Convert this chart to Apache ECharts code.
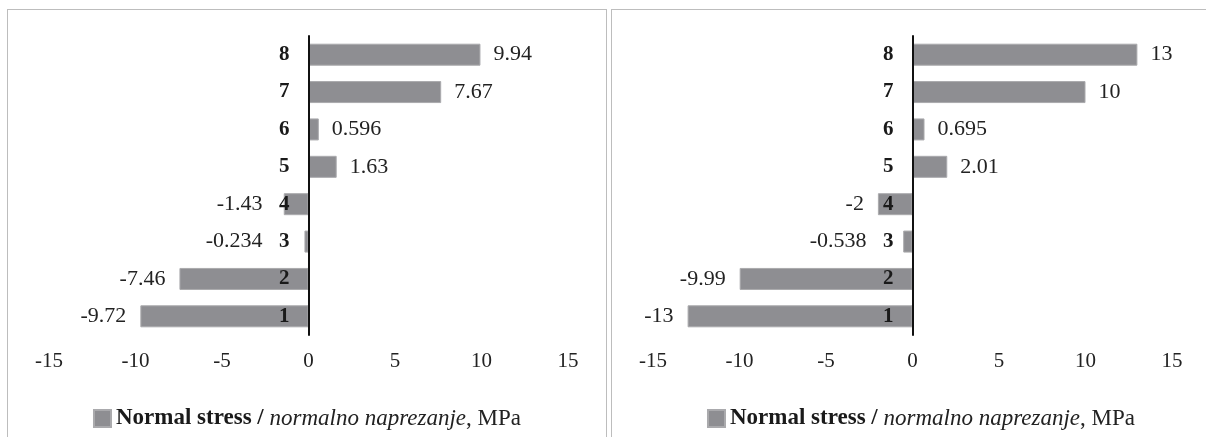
<!DOCTYPE html>
<html>
<head>
<meta charset="utf-8">
<script src="https://cdn.jsdelivr.net/npm/echarts@6/dist/echarts.min.js"></script>
<style>
  html, body { margin: 0; padding: 0; background: #fff; width: 1206px; height: 437px; overflow: hidden; }
  .panel { position: absolute; top: 9px; height: 460px; border: 1px solid #bdbdbd; box-sizing: border-box; background: #fff; }
  #left { left: 7px; width: 600px; }
  #right { left: 611px; width: 620px; }
</style>
</head>
<body>
<div id="left" class="panel"></div>
<div id="right" class="panel"></div>
<script>
const categories = ['1', '2', '3', '4', '5', '6', '7', '8'];
const leftValues = [-9.72, -7.46, -0.234, -1.43, 1.63, 0.596, 7.67, 9.94];
const rightValues = [-13, -9.99, -0.538, -2, 2.01, 0.695, 10, 13];
const xTicks = { min: -15, max: 15, interval: 5 };
const seriesName = 'Normal stress / normalno naprezanje, MPa';

const FONT = '"Liberation Serif", "Times New Roman", serif';
const BAR = '#8e8e92';
const GRID_W = 519;
const PX_PER_UNIT = GRID_W / (xTicks.max - xTicks.min);

function buildOption(values, gridLeft) {
  return {
    animation: false,
    textStyle: { fontFamily: FONT },
    grid: { left: gridLeft, width: GRID_W, top: 26, height: 299 },
    xAxis: {
      type: 'value', min: xTicks.min, max: xTicks.max, interval: xTicks.interval,
      axisLine: { show: false }, axisTick: { show: false }, splitLine: { show: false },
      axisLabel: { fontFamily: FONT, fontSize: 21, color: '#222', margin: 16 }
    },
    yAxis: {
      type: 'category', data: categories, z: 5,
      offset: -GRID_W / 2,
      axisLine: { show: true, onZero: false, lineStyle: { color: '#111', width: 2 } },
      axisTick: { show: false },
      axisLabel: { fontFamily: FONT, fontSize: 21, fontWeight: 'bold', color: '#1a1a1a', margin: 19 }
    },
    legend: {
      left: 'center', top: 392, itemWidth: 17, itemHeight: 17, itemGap: 10, icon: 'rect',
      data: [seriesName],
      formatter: function () { return '{b|Normal stress /} {i|normalno naprezanje}{n|, MPa}'; },
      textStyle: {
        fontFamily: FONT, fontSize: 23, color: '#222',
        rich: {
          b: { fontFamily: FONT, fontSize: 23, fontWeight: 'bold', color: '#1a1a1a' },
          i: { fontFamily: FONT, fontSize: 23, fontStyle: 'italic', color: '#222' },
          n: { fontFamily: FONT, fontSize: 23, color: '#222' }
        }
      }
    },
    series: [{
      name: seriesName, type: 'bar', barWidth: 22,
      itemStyle: { color: BAR, borderColor: '#aaaaad', borderWidth: 1 },
      data: values.map(function (v) {
        // negative labels are pushed clear of the category label sitting left of the zero line
        const barLen = Math.abs(v) * PX_PER_UNIT;
        const dist = v >= 0 ? 13 : Math.max(14, 46 - barLen);
        return {
          value: v,
          label: {
            show: true, position: v >= 0 ? 'right' : 'left', distance: dist,
            fontFamily: FONT, fontSize: 22, color: '#222',
            formatter: function (p) { return String(p.value); }
          }
        };
      })
    }]
  };
}

echarts.init(document.getElementById('left')).setOption(buildOption(leftValues, 41));
echarts.init(document.getElementById('right')).setOption(buildOption(rightValues, 41));
</script>
</body>
</html>
